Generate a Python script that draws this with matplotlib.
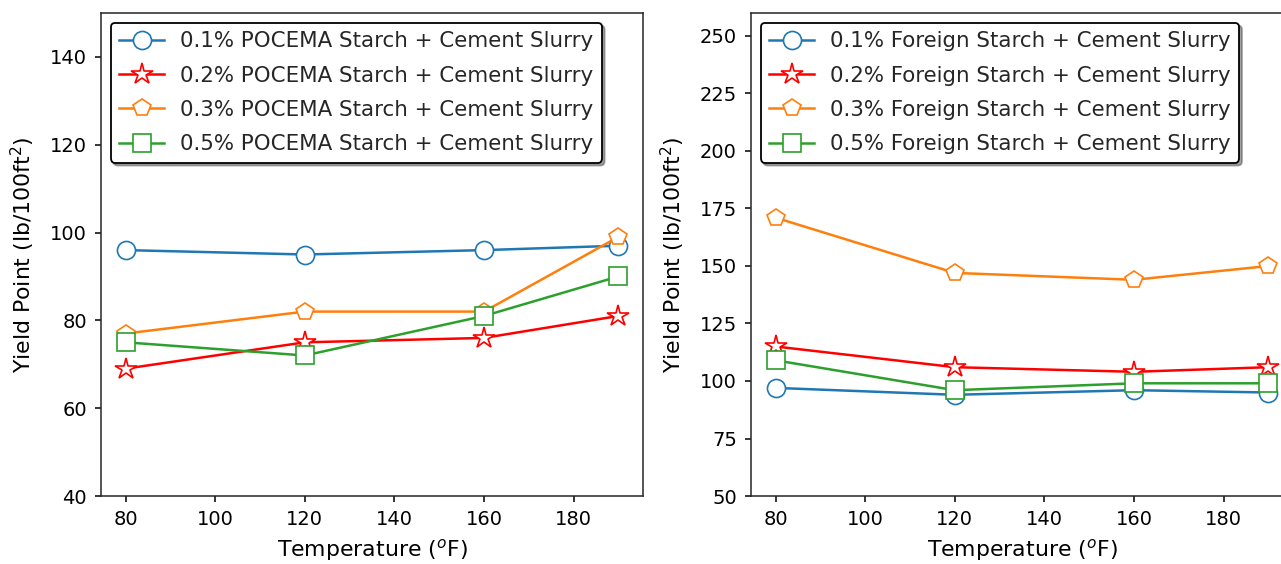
import matplotlib
matplotlib.use("Agg")
import matplotlib.pyplot as plt

temps = [80, 120, 160, 190]

pocema_01 = [96, 95, 96, 97]
pocema_02 = [69, 75, 76, 81]
pocema_03 = [77, 82, 82, 99]
pocema_05 = [75, 72, 81, 90]

foreign_01 = [97, 94, 96, 95]
foreign_02 = [115, 106, 104, 106]
foreign_03 = [171, 147, 144, 150]
foreign_05 = [109, 96, 99, 99]

pct_labels = ["0.1%", "0.2%", "0.3%", "0.5%"]
colors = ["#1f77b4", "#ff0000", "#ff7f0e", "#2ca02c"]
markers = ["o", "*", "p", "s"]

TICK_FS = 14
LEG_FS = 15.4
LAB_FS = 15.8
plt.rcParams["font.family"] = ["DejaVu Sans"]
plt.rcParams["text.color"] = "#262626"

W, H = 1281, 564
fig = plt.figure(figsize=(W / 100, H / 100), dpi=100)

ax1 = fig.add_axes([101 / W, (H - 496) / H, 542 / W, 483 / H])
ax2 = fig.add_axes([751 / W, (H - 496) / H, 542 / W, 483 / H])


def draw(ax, series, name, ylim, yticks):
    for s, pct, c, m in zip(series, pct_labels, colors, markers):
        ms = 16 if m == "*" else 13
        ax.plot(temps, s, color=c, marker=m, markersize=ms, markerfacecolor="white",
                markeredgecolor=c, linewidth=1.8, markeredgewidth=1.2,
                label=f"{pct} {name} Starch + Cement Slurry")
    ax.set_ylim(*ylim)
    ax.set_yticks(yticks)
    ax.set_xlim(74.5, 195.5)
    ax.set_xticks([80, 100, 120, 140, 160, 180])
    ax.set_xlabel("Temperature ($^o$F)", fontsize=LAB_FS, labelpad=6)
    ax.set_ylabel("Yield Point (lb/100ft$^2$)", fontsize=LAB_FS, labelpad=9)
    ax.tick_params(labelsize=TICK_FS, length=4.6, pad=5.5, width=1.1)
    for sp in ax.spines.values():
        sp.set_linewidth(1.1)
        sp.set_color("#262626")
    leg = ax.legend(loc="upper left", fontsize=LEG_FS, shadow=True, framealpha=1,
                    fancybox=True, edgecolor="black", handlelength=2.1,
                    labelspacing=0.67, borderaxespad=0.45, handletextpad=0.75)
    leg.get_frame().set_linewidth(1.3)


draw(ax1, [pocema_01, pocema_02, pocema_03, pocema_05], "POCEMA", (40, 150),
     [40, 60, 80, 100, 120, 140])
draw(ax2, [foreign_01, foreign_02, foreign_03, foreign_05], "Foreign", (50, 260),
     [50, 75, 100, 125, 150, 175, 200, 225, 250])

fig.savefig("out.png", dpi=100)
